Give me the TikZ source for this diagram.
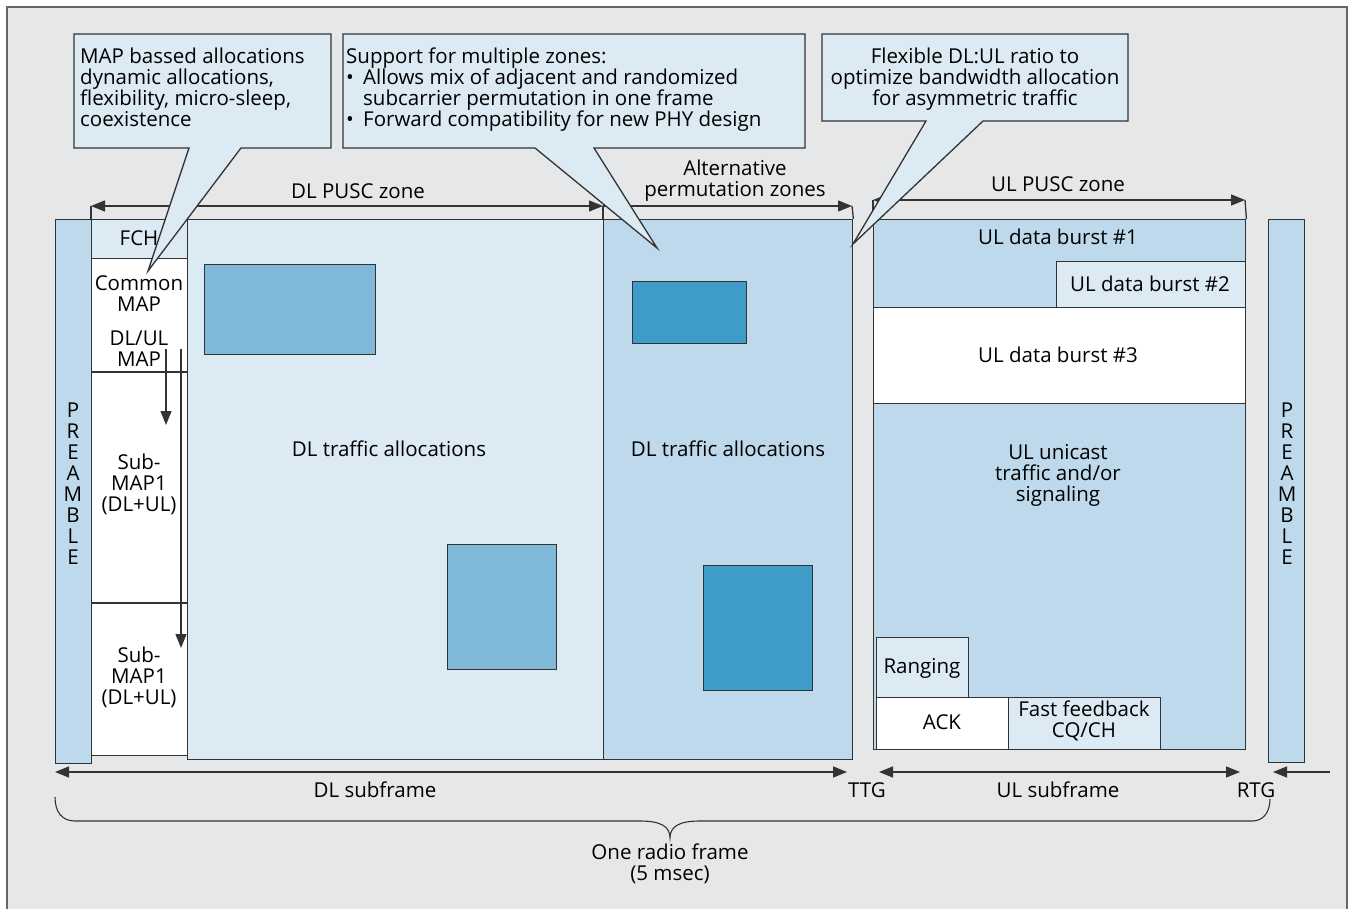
\documentclass[tikz,border=0pt]{standalone}
\usepackage{fontspec}
\setmainfont{Open Sans}
\usetikzlibrary{arrows.meta}
\definecolor{bg}{HTML}{E6E7E8}
\definecolor{light}{HTML}{DCEAF4}
\definecolor{mid}{HTML}{BDD9EB}
\definecolor{rA}{HTML}{80B8DA}
\definecolor{rB}{HTML}{3F9CC9}
\definecolor{lc}{HTML}{333333}
\tikzset{
  fnt/.style={font=\fontsize{20.5}{21}\selectfont},
  box/.style={draw=lc, line width=1.4pt, inner sep=0pt, anchor=north west},
  txt/.style={fnt, inner sep=0pt, align=center, text=black},
  ln/.style={draw=lc, line width=1.3pt},
  tip/.tip={Triangle[length=14pt,width=11pt]},
  arr/.style={ln, -tip},
  arrb/.style={ln, tip-tip},
  callout/.style={fill=light, draw=lc, line width=1.3pt, line join=miter},
}
\newcommand\bx[6]{\node[box,#6,minimum width={(#4-#2)*1pt},minimum height={(#5-#3)*1pt}] (#1) at (#2,#3) {};}
\begin{document}
\begin{tikzpicture}[x=1pt,y=-1pt]
\useasboundingbox (0,0) rectangle (1351,909);
\fill[white] (0,0) rectangle (1351,909);
\filldraw[fill=bg, draw=gray!80!black, line width=1.3pt] (7,7) rectangle (1347,930);

% left part
\bx{preL}{55}{219}{91}{763}{fill=mid}
\bx{fch}{91}{219}{187}{258}{fill=light}
\bx{mapcol}{91}{258}{187}{755}{fill=white}
\coordinate (s1w) at (91,372); \coordinate (s1e) at (187,372);
\coordinate (s2w) at (91,603); \coordinate (s2e) at (187,603);
\draw[ln] (s1w) -- (s1e);
\draw[ln] (s2w) -- (s2e);
\bx{dlpusc}{187}{219}{603}{759}{fill=light}
\bx{alt}{603}{219}{852}{759}{fill=mid}
\bx{r1}{204}{264}{375}{354}{fill=rA}
\bx{r2}{447}{544}{556}{669}{fill=rA}
\bx{r3}{632}{281}{746}{343}{fill=rB}
\bx{r4}{703}{565}{812}{690}{fill=rB}

% UL part
\bx{ul}{873}{219}{1245}{749}{fill=mid}
\bx{b2}{1056}{261}{1245}{307}{fill=light}
\bx{b3}{873}{307}{1245}{403}{fill=white}
\bx{rng}{876}{637}{968}{697}{fill=light}
\bx{ack}{876}{697}{1008}{749}{fill=white}
\bx{ff}{1008}{697}{1160}{749}{fill=light}
\bx{preR}{1268}{219}{1304}{762}{fill=mid}

% map arrows
\coordinate (m1s) at (166,349); \coordinate (m1e) at (166,425);
\coordinate (m2s) at (181,349); \coordinate (m2e) at (181,648);
\draw[arr] (m1s) -- (m1e);
\draw[arr] (m2s) -- (m2e);

% texts in boxes
\node[txt] (tpreL) at (73,484) {P\\R\\E\\A\\M\\B\\L\\E};
\node[txt] (tpreR) at (1287,484) {P\\R\\E\\A\\M\\B\\L\\E};
\node[txt] (tfch) at (139,238) {FCH};
\node[txt] (tcm) at (139,294) {Common\\MAP};
\node[txt] (tdlul) at (139,349) {DL/UL\\MAP};
\node[txt] (ts1) at (139,484) {Sub-\\MAP1\\(DL+UL)};
\node[txt] (ts2) at (139,677) {Sub-\\MAP1\\(DL+UL)};
\node[txt] (tdl1) at (389,449) {DL traffic allocations};
\node[txt] (tdl2) at (728,449) {DL traffic allocations};
\node[txt] (tb1) at (1058,237) {UL data burst \#1};
\node[txt] (tb2) at (1150,284) {UL data burst \#2};
\node[txt] (tb3) at (1058,355) {UL data burst \#3};
\node[txt] (tuni) at (1058,475) {UL unicast\\traffic and/or\\signaling};
\node[txt] (trng) at (922,668) {Ranging};
\node[txt] (tack) at (942,722) {ACK};
\node[txt] (tff) at (1084,721) {Fast feedback\\CQ/CH};

% zone arrows
\coordinate (dzL) at (91,206); \coordinate (dzR) at (603,206); \coordinate (azR) at (852,206);
\draw[ln] (dzL) -- (fch.north west);
\draw[ln] (dzR) -- (alt.north west);
\draw[ln] (azR) -- (alt.north east);
\draw[arrb] (dzL) -- (dzR);
\draw[arr] (dzR) -- (azR);
\coordinate (uzL) at (873,200); \coordinate (uzR) at (1245,200);
\draw[ln] (uzL) -- (ul.north west);
\draw[ln] (uzR) -- (ul.north east);
\draw[arrb] (uzL) -- (uzR);
\node[txt] (ldz) at (358,191) {DL PUSC zone};
\node[txt] (laz) at (735,181) {Alternative\\permutation zones};
\node[txt] (luz) at (1058,184) {UL PUSC zone};

% bottom arrows
\coordinate (dsL) at (55,772); \coordinate (dsR) at (847,772);
\coordinate (usL) at (879,772); \coordinate (usR) at (1240,772);
\coordinate (rS) at (1330,772); \coordinate (rE) at (1273,772);
\draw[arrb] (dsL) -- (dsR);
\draw[arrb] (usL) -- (usR);
\draw[arr] (rS) -- (rE);
\node[txt] (lds) at (375,790) {DL subframe};
\node[txt] (lttg) at (867,790) {TTG};
\node[txt] (lus) at (1058,790) {UL subframe};
\node[txt] (lrtg) at (1256,790) {RTG};

% brace
\draw[ln, line width=1.1pt] (55,797) .. controls (55,812) and (62,821) .. (75,821) -- (640,821)
  .. controls (660,821) and (670,826) .. (670,838)
  .. controls (670,826) and (680,821) .. (700,821) -- (1252,821)
  .. controls (1265,821) and (1270,810) .. (1270,799);
\node[txt] (lorf) at (670,864) {One radio frame\\(5 msec)};

% callouts
\filldraw[callout] (74,34) -- (331,34) -- (331,148) -- (241,148) -- (148,271) -- (189,148) -- (74,148) -- cycle;
\node[fnt, anchor=north west, inner sep=0pt, align=left] (c1t) at (80,47.5)
  {MAP bassed allocations\\dynamic allocations,\\flexibility, micro-sleep,\\coexistence};
\filldraw[callout] (343,34) -- (805,34) -- (805,148) -- (594,148) -- (657,248) -- (535,148) -- (343,148) -- cycle;
\node[fnt, anchor=north west, inner sep=0pt, align=left] (c2t) at (346,47.5)
  {Support for multiple zones:\\
   \makebox[17pt][l]{\textbullet}Allows mix of adjacent and randomized\\
   \makebox[17pt][l]{}subcarrier permutation in one frame\\
   \makebox[17pt][l]{\textbullet}Forward compatibility for new PHY design};
\filldraw[callout] (822,34) -- (1128,34) -- (1128,121) -- (983,121) -- (853,244) -- (926,121) -- (822,121) -- cycle;
\node[fnt, anchor=north, inner sep=0pt, align=center] (c3t) at (975,47.5)
  {Flexible DL:UL ratio to\\optimize bandwidth allocation\\for asymmetric traffic};
\end{tikzpicture}
\end{document}
